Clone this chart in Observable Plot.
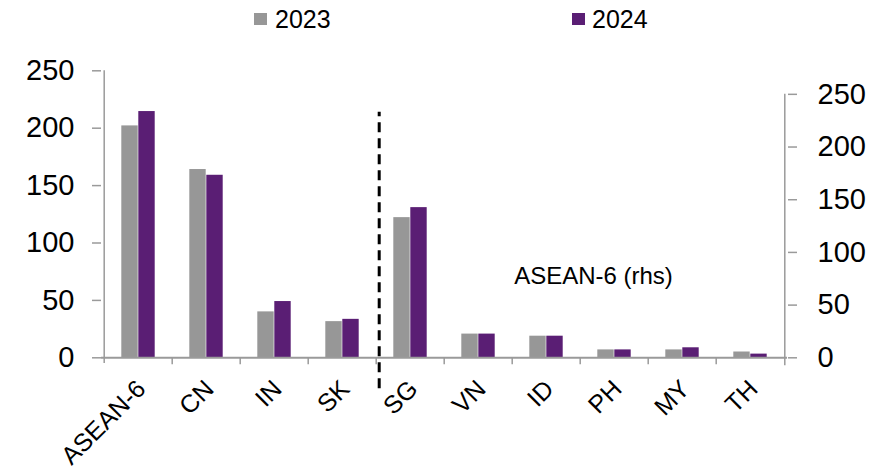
<!DOCTYPE html>
<html>
<head>
<meta charset="utf-8">
<script src="https://cdn.jsdelivr.net/npm/d3@7"></script>
<script src="https://cdn.jsdelivr.net/npm/@observablehq/plot@0.6"></script>
<style>
  html, body { margin: 0; padding: 0; background: #fff; }
  body { font-family: "Liberation Sans", Arial, sans-serif; width: 887px; }
  #legend { position: relative; width: 887px; height: 45px; font-size: 25px; line-height: 25px; color: #000; }
  #legend .sw { position: absolute; width: 13px; height: 12px; top: 13px; }
  #legend .lb { position: absolute; top: 7px; }
  #chart svg { display: block; }
</style>
</head>
<body>
<div id="legend"></div>
<div id="chart"></div>
<script>
// ---- data ----
const categories = ["ASEAN-6", "CN", "IN", "SK", "SG", "VN", "ID", "PH", "MY", "TH"];
const rhsCategories = ["SG", "VN", "ID", "PH", "MY", "TH"];      // plotted on the right-hand axis
const values2023 = [202, 164, 40, 31.5, 133, 22.5, 20.5, 7.5, 7.5, 5.5];
const values2024 = [214.5, 159, 49, 33.5, 142.5, 22.5, 20.5, 7.5, 9.5, 3.5];
const seriesNames = ["2023", "2024"];
const seriesColors = ["#979797", "#5a1e74"];
const leftTicks = [0, 50, 100, 150, 200, 250];
const rightTicks = [0, 50, 100, 150, 200, 250];
const rhsLabel = "ASEAN-6 (rhs)";
const rhsToLhs = 0.918; // one right-axis unit expressed in left-axis units

// ---- layout ----
const W = 887, H = 425;
const marginLeft = 101, marginRight = 100, marginTop = 25.3, marginBottom = 112.7;
const band = (W - marginLeft - marginRight) / categories.length;
const half = band / 2, barW = 17;
const gray = "#9a9a9a";

const seriesValues = [values2023, values2024];
const rows = categories.flatMap((c, i) => seriesNames.map((s, j) => {
  const v = seriesValues[j][i];
  const rhs = rhsCategories.includes(c);
  return {cat: c, series: s, value: v, plotted: rhs ? v * rhsToLhs : v};
}));

// ---- legend (HTML, above the SVG) ----
const legendPos = [{sw: 254, lb: 275}, {sw: 572, lb: 592}];
const legend = document.getElementById("legend");
seriesNames.forEach((s, i) => {
  const sw = document.createElement("div");
  sw.className = "sw"; sw.style.left = legendPos[i].sw + "px"; sw.style.background = seriesColors[i];
  const lb = document.createElement("div");
  lb.className = "lb"; lb.style.left = legendPos[i].lb + "px"; lb.textContent = s;
  legend.append(sw, lb);
});

const chart = Plot.plot({
  width: W,
  height: H,
  marginLeft, marginRight, marginTop, marginBottom,
  style: {fontFamily: "'Liberation Sans', Arial, sans-serif", background: "#fff", color: "#000"},
  x: {type: "band", domain: categories, padding: 0},
  y: {domain: [0, 250]},
  color: {domain: seriesNames, range: seriesColors},
  marks: [
    // bars
    Plot.barY(rows.filter(d => d.series === seriesNames[0]), {
      x: "cat", y: "plotted", fill: "series", insetLeft: half - barW, insetRight: half
    }),
    Plot.barY(rows.filter(d => d.series === seriesNames[1]), {
      x: "cat", y: "plotted", fill: "series", insetLeft: half, insetRight: half - barW
    }),
    // baseline
    Plot.ruleY([0], {stroke: gray, strokeWidth: 2}),
    // category boundary ticks
    Plot.axisX(categories.slice(1), {
      anchor: "bottom", tickSize: 7, dx: -half, fill: "none", stroke: gray, strokeWidth: 1.5, label: null
    }),
    // left axis line
    Plot.ruleX([categories[0]], {x: d => d, dx: -half, y1: -5, y2: 250, stroke: gray, strokeWidth: 1.5}),
    // right axis line
    Plot.ruleX([categories[categories.length - 1]], {
      x: d => d, dx: half, y1: -7, y2: 250 * rhsToLhs, stroke: gray, strokeWidth: 1.5
    }),
    // left axis
    Plot.axisY(leftTicks, {
      anchor: "left", tickSize: 9, tickPadding: 18, fontSize: 29, stroke: gray, strokeWidth: 1.5,
      fill: "#000", label: null
    }),
    // right axis
    Plot.axisY(rightTicks.map(v => v * rhsToLhs), {
      anchor: "right", tickSize: 9, tickPadding: 21, fontSize: 29, stroke: gray, strokeWidth: 1.5,
      fill: "#000", label: null, tickFormat: v => String(Math.round(v / rhsToLhs))
    }),
    // dashed separator between the two groups
    Plot.ruleX([rhsCategories[0]], {
      x: d => d, dx: -half + 3, y1: -27, y2: 214, stroke: "#000", strokeWidth: 3, strokeDasharray: "10,6"
    }),
    // rotated category labels
    Plot.text(categories, {
      x: d => d, frameAnchor: "bottom", dy: 27, dx: 3, rotate: -45,
      textAnchor: "end", lineAnchor: "middle", fontSize: 25, fill: "#000"
    }),
    // rhs annotation
    Plot.text([rhsLabel], {
      x: () => "PH", y: () => 71, dx: -21, text: d => d, fontSize: 24, fill: "#000",
      textAnchor: "middle", lineAnchor: "middle"
    })
  ]
});
document.getElementById("chart").append(chart);
</script>
</body>
</html>
